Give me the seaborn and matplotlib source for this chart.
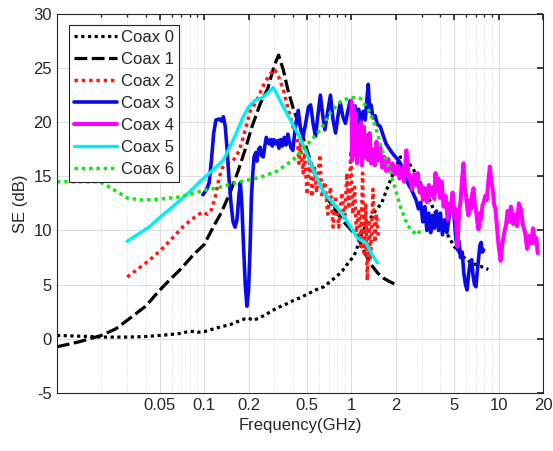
import numpy as np
import matplotlib
matplotlib.use("Agg")
import matplotlib.pyplot as plt
import matplotlib.ticker as mticker
import seaborn as sns

# ---- data (frequency in GHz, SE in dB) ----
f0 = [0.01, 0.013, 0.017, 0.02, 0.025, 0.03, 0.04, 0.05, 0.06, 0.07, 0.08, 0.09, 0.1, 0.115, 0.13,
      0.15, 0.17, 0.19, 0.2, 0.215, 0.235, 0.26, 0.29, 0.32, 0.36, 0.4, 0.45, 0.5, 0.57, 0.65, 0.72,
      0.8, 0.87, 0.95, 1.02, 1.07, 1.15, 1.2, 1.3, 1.45, 1.6, 1.75, 1.95, 2.15, 2.3, 2.6, 2.9, 3.2,
      3.6, 4.0, 4.5, 5.0, 5.7, 6.5, 7.5, 8.5]
se0 = [0.3, 0.25, 0.2, 0.15, 0.15, 0.15, 0.2, 0.3, 0.4, 0.5, 0.7, 0.6, 0.65, 0.9, 1.1,
       1.3, 1.6, 1.85, 1.9, 1.7, 1.9, 2.2, 2.6, 2.9, 3.2, 3.5, 3.8, 4.1, 4.5, 4.8, 5.3,
       5.8, 6.3, 7.0, 7.5, 8.0, 9.4, 10.0, 10.8, 11.8, 12.5, 13.9, 15.5, 16.8, 16.6, 15.8, 14.5, 13.6,
       12.0, 10.8, 9.6, 8.5, 7.6, 7.0, 6.7, 6.4]

f1 = [0.01, 0.014, 0.02, 0.025, 0.03, 0.04, 0.05, 0.06, 0.07, 0.085, 0.1, 0.115, 0.13, 0.15, 0.17,
      0.19, 0.21, 0.24, 0.27, 0.3, 0.32, 0.345, 0.37, 0.4, 0.46, 0.54, 0.6, 0.7, 0.8, 0.9, 1.0,
      1.1, 1.2, 1.35, 1.5, 1.65, 1.8, 2.0]
se1 = [-0.75, -0.3, 0.3, 0.9, 1.7, 3.0, 4.5, 5.6, 6.5, 7.8, 8.7, 10.3, 11.6, 13.5, 15.5,
       17.5, 19.5, 21.7, 23.1, 25.3, 26.2, 24.8, 23.0, 21.4, 19.0, 15.9, 14.5, 12.8, 11.6, 10.7, 10.0,
       9.5, 8.2, 6.9, 6.1, 5.6, 5.3, 5.0]

f2 = [0.03, 0.036, 0.042, 0.05, 0.06, 0.07, 0.08, 0.09, 0.097, 0.105, 0.112, 0.119, 0.126, 0.133,
      0.143, 0.155, 0.165, 0.176, 0.19, 0.205, 0.22, 0.235, 0.25, 0.275, 0.3, 0.32, 0.345, 0.37,
      0.40, 0.43, 0.44, 0.45, 0.47, 0.48, 0.50, 0.52, 0.54, 0.56, 0.58, 0.61, 0.63, 0.66, 0.69,
      0.72, 0.75, 0.78, 0.82, 0.86, 0.9, 0.93, 0.96, 0.99, 1.02, 1.05, 1.08, 1.12, 1.16, 1.19,
      1.22, 1.25, 1.28, 1.31, 1.35, 1.4, 1.44, 1.48, 1.52]
se2 = [5.7, 6.5, 7.2, 8.1, 9.2, 10.2, 10.9, 11.4, 11.7, 11.5, 11.9, 13.1, 14.8, 15.8,
       16.2, 16.4, 16.8, 17.7, 19.3, 21.0, 21.7, 22.4, 23.3, 24.3, 24.9, 24.2, 23.0, 21.3,
       19.6, 18.3, 16.2, 18.0, 15.3, 17.2, 13.3, 16.6, 13.1, 15.9, 13.5, 17.0, 13.1, 14.5, 11.5,
       14.0, 10.3, 13.2, 10.3, 13.5, 11.0, 15.3, 12.0, 17.4, 11.5, 14.0, 9.8, 12.0, 8.5, 15.3,
       7.9, 12.5, 5.4, 11.0, 7.5, 13.8, 8.9, 11.5, 9.5]

f3 = [0.098, 0.104, 0.108, 0.112, 0.116, 0.12, 0.127, 0.131, 0.135, 0.139, 0.143, 0.147, 0.152,
      0.157, 0.162, 0.167, 0.172, 0.176, 0.18, 0.185, 0.19, 0.195, 0.2, 0.205, 0.209, 0.213, 0.218,
      0.224, 0.228, 0.234, 0.24, 0.246, 0.252, 0.258, 0.264, 0.27, 0.276, 0.283, 0.29, 0.297, 0.305,
      0.314, 0.322, 0.33, 0.34, 0.35, 0.36, 0.37, 0.38, 0.39, 0.4, 0.415, 0.435, 0.45, 0.47, 0.49,
      0.51, 0.528, 0.55, 0.57, 0.59, 0.615, 0.64, 0.66, 0.69, 0.72, 0.75, 0.78, 0.81, 0.84, 0.875,
      0.91, 0.945, 0.98, 1.0, 1.03, 1.06, 1.09, 1.12, 1.16, 1.2, 1.24, 1.27, 1.3, 1.33, 1.36, 1.4,
      1.45, 1.5, 1.57, 1.64, 1.72, 1.8, 1.88, 1.96, 2.05, 2.15, 2.25, 2.35, 2.45, 2.55, 2.65, 2.75,
      2.85, 2.95, 3.05, 3.15, 3.25, 3.35, 3.45, 3.55, 3.65, 3.78, 3.9, 4.02, 4.15, 4.3, 4.45, 4.6,
      4.75, 4.9, 5.0, 5.12, 5.25, 5.38, 5.5, 5.65, 5.8, 5.95, 6.1, 6.25, 6.4, 6.55, 6.7, 6.85, 7.0,
      7.15, 7.3, 7.45, 7.6, 7.75, 7.9]
se3 = [13.3, 13.8, 14.4, 16.5, 19.0, 20.2, 20.3, 20.1, 20.5, 19.6, 17.5, 15.0, 12.5,
       10.8, 10.3, 11.0, 13.2, 14.4, 12.5, 8.5, 5.0, 3.0, 4.5, 8.5, 12.8, 15.0, 16.8,
       17.2, 16.4, 17.5, 17.7, 16.9, 16.8, 17.8, 18.6, 18.3, 18.0, 18.4, 17.8, 18.4, 18.0,
       18.3, 17.6, 18.4, 17.8, 18.6, 17.9, 18.9, 18.1, 17.6, 17.4, 19.5, 21.1, 19.5, 18.7, 20.0,
       21.4, 21.6, 19.8, 18.7, 20.5, 22.5, 20.5, 19.3, 21.0, 22.5, 20.2, 19.0, 20.6, 21.8, 20.5,
       19.9, 21.0, 22.0, 21.8, 20.3, 21.5, 19.8, 21.2, 20.0, 21.0, 20.2, 22.0, 23.5, 21.0, 21.6, 20.4,
       20.6, 19.8, 19.6, 18.8, 18.0, 17.6, 17.2, 16.9, 16.6, 16.2, 15.5, 14.8, 14.2, 13.8, 13.3, 12.8,
       12.0, 12.6, 10.8, 12.2, 10.0, 11.6, 9.8, 11.4, 10.2, 11.8, 10.0, 11.6, 9.6, 11.0, 9.8, 11.2,
       12.2, 13.1, 11.0, 9.2, 8.2, 9.0, 7.5, 8.0, 6.0, 5.0, 4.5, 6.0, 7.0, 7.3, 5.8, 5.0, 4.8,
       6.2, 7.4, 8.6, 8.9, 8.0, 8.2]

f4 = [1.0, 1.01, 1.03, 1.05, 1.07, 1.09, 1.11, 1.13, 1.16, 1.18, 1.21, 1.24, 1.27, 1.3, 1.33,
      1.36, 1.4, 1.44, 1.48, 1.52, 1.57, 1.62, 1.67, 1.72, 1.78, 1.84, 1.9, 1.97, 2.05, 2.12, 2.2,
      2.28, 2.36, 2.42, 2.5, 2.58, 2.66, 2.74, 2.82, 2.9, 2.98, 3.06, 3.15, 3.25, 3.35, 3.45, 3.55,
      3.65, 3.72, 3.8, 3.9, 4.0, 4.1, 4.22, 4.35, 4.5, 4.62, 4.75, 4.86, 4.98, 5.1, 5.25, 5.38,
      5.5, 5.62, 5.76, 5.88, 6.0, 6.12, 6.23, 6.36, 6.5, 6.62, 6.75, 6.88, 7.0, 7.15, 7.3, 7.45,
      7.6, 7.75, 7.9, 8.1, 8.3, 8.5, 8.7, 8.9, 9.1, 9.3, 9.5, 9.75, 10.0, 10.3, 10.6, 10.9, 11.2,
      11.5, 11.8, 12.1, 12.5, 12.9, 13.3, 13.7, 14.1, 14.6, 15.1, 15.6, 16.1, 16.6, 17.1, 17.6,
      18.0, 18.4]
se4 = [22.0, 16.5, 21.5, 17.0, 20.8, 16.2, 19.5, 17.0, 20.0, 16.0, 19.6, 16.8, 18.8, 16.5, 19.0,
       16.2, 17.5, 16.0, 18.2, 16.5, 17.7, 15.8, 16.8, 15.5, 16.6, 15.4, 16.2, 15.2, 16.0, 14.8, 15.8,
       14.5, 17.4, 15.5, 14.8, 13.8, 15.2, 14.2, 15.3, 13.5, 14.2, 12.8, 13.9, 12.6, 14.2, 13.2, 14.0,
       12.9, 15.3, 13.6, 14.8, 13.0, 14.5, 12.2, 13.2, 11.0, 12.5, 11.8, 13.5, 11.2, 12.0, 8.5, 11.8,
       12.6, 14.5, 16.2, 14.0, 13.2, 12.0, 11.4, 12.8, 12.0, 13.5, 13.9, 12.4, 12.0, 10.8, 10.1, 11.6,
       11.0, 12.3, 12.6, 13.2, 12.8, 14.5, 15.9, 14.6, 13.8, 12.4, 12.0, 10.2, 8.5, 7.2, 8.8, 9.8, 10.5,
       11.8, 10.8, 12.2, 10.6, 11.5, 10.4, 12.5, 12.0, 10.5, 9.8, 8.3, 9.5, 8.8, 10.2, 8.8,
       9.3, 7.9]

f5 = [0.03, 0.036, 0.042, 0.05, 0.06, 0.07, 0.08, 0.095, 0.115, 0.135, 0.158, 0.184, 0.2, 0.22,
      0.25, 0.27, 0.295, 0.345, 0.4, 0.46, 0.5, 0.55, 0.6, 0.65, 0.72, 0.8, 0.9, 1.0, 1.1, 1.17,
      1.25, 1.35, 1.5]
se5 = [9.0, 9.7, 10.3, 11.2, 12.1, 12.9, 13.6, 14.6, 15.6, 16.5, 18.4, 20.5, 21.4, 22.0,
       22.3, 22.7, 23.2, 21.4, 19.8, 18.2, 17.0, 15.6, 14.5, 13.5, 12.8, 12.1, 11.2, 10.2, 9.3, 9.1,
       8.9, 8.0, 7.0]

f6 = [0.01, 0.0196, 0.0241, 0.03, 0.0384, 0.05, 0.0687, 0.094, 0.128, 0.176, 0.24, 0.314, 0.4,
      0.5, 0.615, 0.72, 0.84, 0.98, 1.15, 1.34, 1.42, 1.5, 1.6, 1.75, 1.84, 1.93, 2.15, 2.4, 2.6,
      2.82, 2.95]
se6 = [14.5, 14.5, 13.8, 13.0, 12.8, 12.9, 13.1, 13.6, 14.0, 14.5, 14.9, 15.5, 16.5,
       17.9, 19.3, 20.9, 21.9, 22.3, 22.2, 20.9, 20.0, 19.0, 17.5, 16.4, 15.3, 14.4, 12.2, 10.5, 9.9,
       9.6, 10.1]

series = [
    ("Coax 0", f0, se0, "black", (0, (1, 1.1)), 2.3),
    ("Coax 1", f1, se1, "black", (0, (4, 1.4)), 2.3),
    ("Coax 2", f2, se2, "#ff1a1a", (0, (1, 1.1)), 2.5),
    ("Coax 3", f3, se3, "#0a0ae6", "-", 2.6),
    ("Coax 4", f4, se4, "#ff00ff", "-", 2.9),
    ("Coax 5", f5, se5, "#00f0f0", "-", 2.4),
    ("Coax 6", f6, se6, "#1ee01e", (0, (1, 1.1)), 2.5),
]

xticks = [0.05, 0.1, 0.2, 0.5, 1, 2, 5, 10, 20]
xticklabels = ["0.05", "0.1", "0.2", "0.5", "1", "2", "5", "10", "20"]
yticks = [-5, 0, 5, 10, 15, 20, 25, 30]

sns.set_theme(style="white")
plt.rcParams["font.family"] = ["Liberation Sans", "DejaVu Sans"]
plt.rcParams["axes.unicode_minus"] = False

fig, ax = plt.subplots(figsize=(5.53, 4.51), dpi=100)
fig.subplots_adjust(left=0.103, right=0.982, top=0.969, bottom=0.129)

for name, f, se, col, ls, lw in series:
    sns.lineplot(x=f, y=se, ax=ax, color=col, linestyle=ls, linewidth=lw,
                 label=name, sort=False, estimator=None)

ax.set_xscale("log")
ax.set_xlim(0.01, 20)
ax.set_ylim(-5, 30)
ax.xaxis.set_major_locator(mticker.FixedLocator(xticks))
ax.xaxis.set_major_formatter(mticker.FixedFormatter(xticklabels))
ax.xaxis.set_minor_locator(mticker.LogLocator(base=10, subs=np.arange(2, 10)))
ax.xaxis.set_minor_formatter(mticker.NullFormatter())
ax.set_yticks(yticks)

ax.grid(which="major", color="#dcdcdc", linewidth=0.7, linestyle="-")
ax.grid(which="minor", axis="x", color="#d4d4d4", linewidth=0.6, linestyle=":")
ax.set_axisbelow(True)

ax.tick_params(which="both", direction="in", top=True, right=True, colors="#262626",
               labelsize=12, labelcolor="#262626")
ax.tick_params(which="major", length=4.5)
ax.tick_params(which="minor", length=2.5)
for sp in ax.spines.values():
    sp.set_color("#262626")
    sp.set_linewidth(0.8)

ax.set_xlabel("Frequency(GHz)", fontsize=12, color="#262626")
ax.set_ylabel("SE (dB)", fontsize=12, color="#262626")

leg = ax.legend(loc="upper left", bbox_to_anchor=(0.025, 0.971), borderaxespad=0,
                fontsize=12, frameon=True, fancybox=False, framealpha=1,
                edgecolor="#262626", handlelength=2.6, handletextpad=0.2,
                labelspacing=0.42, borderpad=0.3)
leg.get_frame().set_linewidth(0.8)

plt.savefig("out.png", dpi=100)
